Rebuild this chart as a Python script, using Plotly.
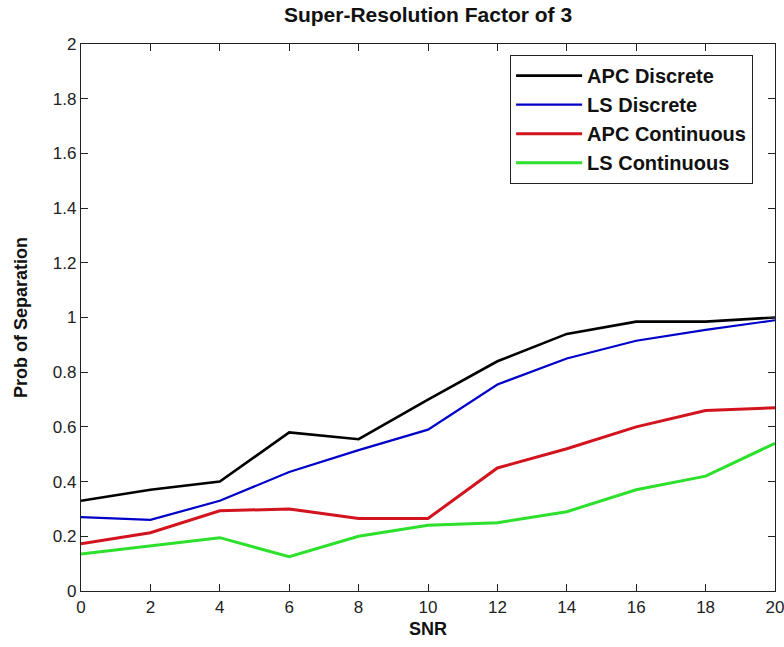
import plotly.graph_objects as go

snr = [0, 2, 4, 6, 8, 10, 12, 14, 16, 18, 20]
apc_discrete = [0.33, 0.37, 0.40, 0.58, 0.555, 0.70, 0.84, 0.94, 0.985, 0.985, 1.0]
ls_discrete = [0.27, 0.26, 0.33, 0.435, 0.515, 0.59, 0.755, 0.85, 0.915, 0.955, 0.99]
apc_continuous = [0.173, 0.213, 0.293, 0.30, 0.265, 0.265, 0.45, 0.52, 0.60, 0.66, 0.67]
ls_continuous = [0.135, 0.165, 0.195, 0.125, 0.20, 0.24, 0.25, 0.29, 0.37, 0.42, 0.54]

series = [
    ("APC Discrete", apc_discrete, "#000000", 2.6),
    ("LS Discrete", ls_discrete, "#0000C8", 2.2),
    ("APC Continuous", apc_continuous, "#D2141E", 3.0),
    ("LS Continuous", ls_continuous, "#2CE02C", 3.0),
]

FONT = "Liberation Sans, Arial, sans-serif"

fig = go.Figure()
for name, vals, color, w in series:
    fig.add_trace(go.Scatter(x=snr, y=vals, mode="lines", name="<b>%s</b>" % name,
                             legendgroup=name,
                             line=dict(color=color, width=w)))

axis_common = dict(
    showgrid=False, zeroline=False, showline=True, linecolor="#222222", linewidth=1.2,
    mirror="ticks", ticks="inside", ticklen=7, tickcolor="#222222", tickwidth=1.2,
    ticklabeloverflow="allow", automargin=False,
    tickfont=dict(family=FONT, size=17, color="#222222"),
)

fig.update_layout(
    width=784, height=647,
    margin=dict(l=81, r=9, t=44, b=56, autoexpand=False),
    paper_bgcolor="white", plot_bgcolor="white",
    title=dict(text="<b>Super-Resolution Factor of 3</b>", x=0.5, xref="paper",
               y=1 - 15 / 647, yanchor="middle",
               font=dict(family=FONT, size=21, color="#111111")),
    xaxis=dict(range=[0, 20], tickvals=snr, ticktext=[str(v) for v in snr],
               title=dict(text="<b>SNR</b>", font=dict(family=FONT, size=18, color="#111111"), standoff=6),
               **axis_common),
    yaxis=dict(range=[0, 2], dtick=0.2,
               title=dict(text="<b>Prob of Separation</b>", font=dict(family=FONT, size=18, color="#111111"), standoff=20),
               **axis_common),
    legend=dict(x=0.618, y=0.98, xanchor="left", yanchor="top",
                bgcolor="white", bordercolor="#222222", borderwidth=1.2,
                font=dict(family=FONT, size=20, color="#111111"),
                tracegroupgap=0, itemwidth=66),
    showlegend=True,
)

fig.write_html("out.html")
